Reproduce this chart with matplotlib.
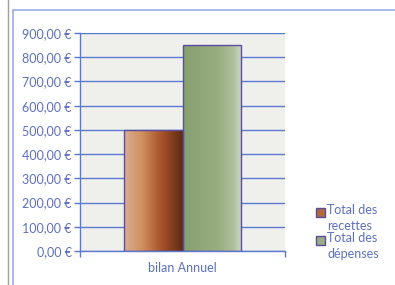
import numpy as np
import matplotlib.pyplot as plt
from matplotlib.colors import LinearSegmentedColormap
from matplotlib.patches import Rectangle
from matplotlib.lines import Line2D

# données
categorie = ["bilan Annuel"]
series = ["Total des\nrecettes", "Total des\ndépenses"]
valeurs = [500, 850]
graduations = [0, 100, 200, 300, 400, 500, 600, 700, 800, 900]

# dégradés des barres
degrades = [
    LinearSegmentedColormap.from_list("rec", [(0, "#d9ad94"), (0.3, "#d0915f"), (0.62, "#a9552b"), (1, "#5e2b12")]),
    LinearSegmentedColormap.from_list("dep", [(0, "#87a070"), (0.6, "#98ae80"), (0.85, "#adbe9a"), (1, "#cfd8c6")]),
]
couleurs_legende = ["#b2683a", "#98ae80"]

bleu = "#5a78d0"
texte = "#5c70c0"
bord = "#5b4d9e"

plt.rcParams['font.family'] = ['Lato', 'DejaVu Sans']

fig = plt.figure(figsize=(3.95, 2.85), dpi=100)
fig.patch.set_facecolor("white")

# cadre du graphique
fig.add_artist(Line2D([8 / 395, 8 / 395], [0, 1], transform=fig.transFigure, color="#a0a0a0", lw=1))
fig.add_artist(Rectangle((13 / 395, -0.1), 1.2, 1 - 10 / 285 + 0.1, transform=fig.transFigure,
                         fill=False, edgecolor="#9aaee6", lw=1.2))

ax = fig.add_axes([80 / 395, 1 - 251 / 285, 205 / 395, 218 / 285])
ax.set_facecolor("#eff0ec")

largeur = 0.285
positions = [-largeur / 2, largeur / 2]
barres = ax.bar(positions, valeurs, width=largeur, edgecolor=bord, linewidth=1, zorder=3, facecolor="none")
for barre, cmap in zip(barres, degrades):
    x0, y0 = barre.get_x(), barre.get_y()
    grad = np.linspace(0, 1, 256).reshape(1, -1)
    im = ax.imshow(grad, cmap=cmap, aspect="auto", zorder=2.5,
                   extent=[x0, x0 + barre.get_width(), y0, y0 + barre.get_height()])
    im.set_clip_path(barre)

ax.set_xlim(-0.5, 0.5)
ax.set_ylim(0, 900)
ax.set_yticks(graduations)
ax.set_yticklabels([f"{v:.2f}".replace(".", ",") + " €" for v in graduations])
ax.set_xticks([0])
ax.set_xticklabels(categorie)
ax.set_xticks([-0.5, 0.5], minor=True)
ax.tick_params(axis="x", which="major", length=0, pad=8, labelsize=9, labelcolor=texte)
ax.tick_params(axis="x", which="minor", length=4, width=1, color=bleu, direction="out")
ax.tick_params(axis="y", length=4, width=1, color=bleu, labelsize=9, labelcolor=texte, pad=2)

ax.grid(axis="y", color=bleu, lw=1, zorder=1)
ax.set_axisbelow(True)
for cote in ["top", "right"]:
    ax.spines[cote].set_visible(False)
for cote in ["left", "bottom"]:
    ax.spines[cote].set_color(bleu)
    ax.spines[cote].set_linewidth(1)

# légende
ypos = [212, 240]
for nom, coul, yp in zip(series, couleurs_legende, ypos):
    fig.add_artist(Rectangle((316 / 395, 1 - (yp + 4.5) / 285), 9 / 395, 9 / 285,
                             transform=fig.transFigure, facecolor=coul, edgecolor=bord, lw=1))
    fig.text(327 / 395, 1 - (yp - 7.5) / 285, nom, color=texte, fontsize=9, va="top", ha="left",
             linespacing=1.3)

fig.savefig("out.png", dpi=100)
